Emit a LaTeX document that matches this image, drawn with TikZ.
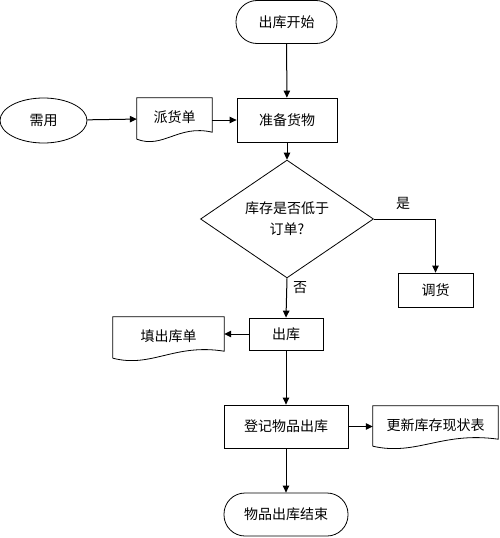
\documentclass[tikz,border=0pt]{standalone}
\usepackage{fontspec}
\newfontfamily\cjk{Noto Sans CJK SC}
\usetikzlibrary{arrows.meta,shapes.geometric,calc}
\tikzset{
  lbl/.style={font=\cjk\fontsize{14}{17}\selectfont, inner sep=0pt},
  outl/.style={draw, line width=0.8pt},
  procbox/.style={lbl, outl, rectangle, minimum width=#1},
  termbox/.style={lbl, outl, rectangle, rounded corners=21pt, minimum width=#1, minimum height=43pt},
  docbox/.style={lbl, rectangle, minimum width=#1},
  flow/.style={line width=1pt, -{Triangle[length=7pt,width=6.5pt]}},
}
\newcommand\docpath[1]{%
  \draw[line width=0.8pt] (#1.south west) -- (#1.north west) -- (#1.north east) -- ($(#1.south east)+(0,-7)$)
   .. controls ($(#1.south west)!0.55!(#1.south east)+(0,-15)$) and ($(#1.south west)!0.35!(#1.south east)+(0,10)$) .. (#1.south west);}
\begin{document}
\begin{tikzpicture}[x=1pt,y=-1pt]
\useasboundingbox (0,0) rectangle (500,538);
\node[termbox=101pt] (start) at (286.5,22) {出库开始};
\node[procbox=100pt, minimum height=44pt] (prep) at (287,120) {准备货物};
\node[docbox=75pt, minimum height=41pt] (pai) at (174.5,118.5) {\raisebox{3pt}{派货单}};
\docpath{pai}
\node[lbl, outl, ellipse, minimum width=87pt, minimum height=45pt] (need) at (43.5,120.5) {需用};
\node[lbl, outl, diamond, minimum width=173pt, minimum height=86pt, align=center] (dec) at (287,219) {库存是否低于\\[4pt]订单?};
\node[procbox=75pt, minimum height=34pt] (tiao) at (435.5,290) {调货};
\node[procbox=74pt, minimum height=32pt] (chuku) at (286,334) {出库};
\node[docbox=111pt, minimum height=41pt] (tian) at (168.5,337.5) {\raisebox{3pt}{填出库单}};
\docpath{tian}
\node[procbox=124pt, minimum height=43pt] (reg) at (286,426.5) {登记物品出库};
\node[docbox=125pt, minimum height=40pt] (upd) at (435.5,426) {\raisebox{3pt}{更新库存现状表}};
\docpath{upd}
\node[termbox=124pt] (end) at (286,514.5) {物品出库结束};

\draw[flow] (start) -- (prep);
\draw[flow] (need) -- (pai);
\draw[flow] (pai.east |- prep.west) -- (prep.west);
\draw[flow] (prep) -- (dec);
\draw[flow] (dec.east) -| (tiao.north);
\node[lbl] (yes) at (403,203) {是};
\draw[flow] (dec.south) -- (chuku.north);
\node[lbl] (no) at (300,288) {否};
\draw[flow] (chuku.west) -- (chuku.west -| tian.east);
\draw[flow] (chuku) -- (reg);
\draw[flow] (reg.east) -- (reg.east -| upd.west);
\draw[flow] (reg) -- (end);
\end{tikzpicture}
\end{document}
